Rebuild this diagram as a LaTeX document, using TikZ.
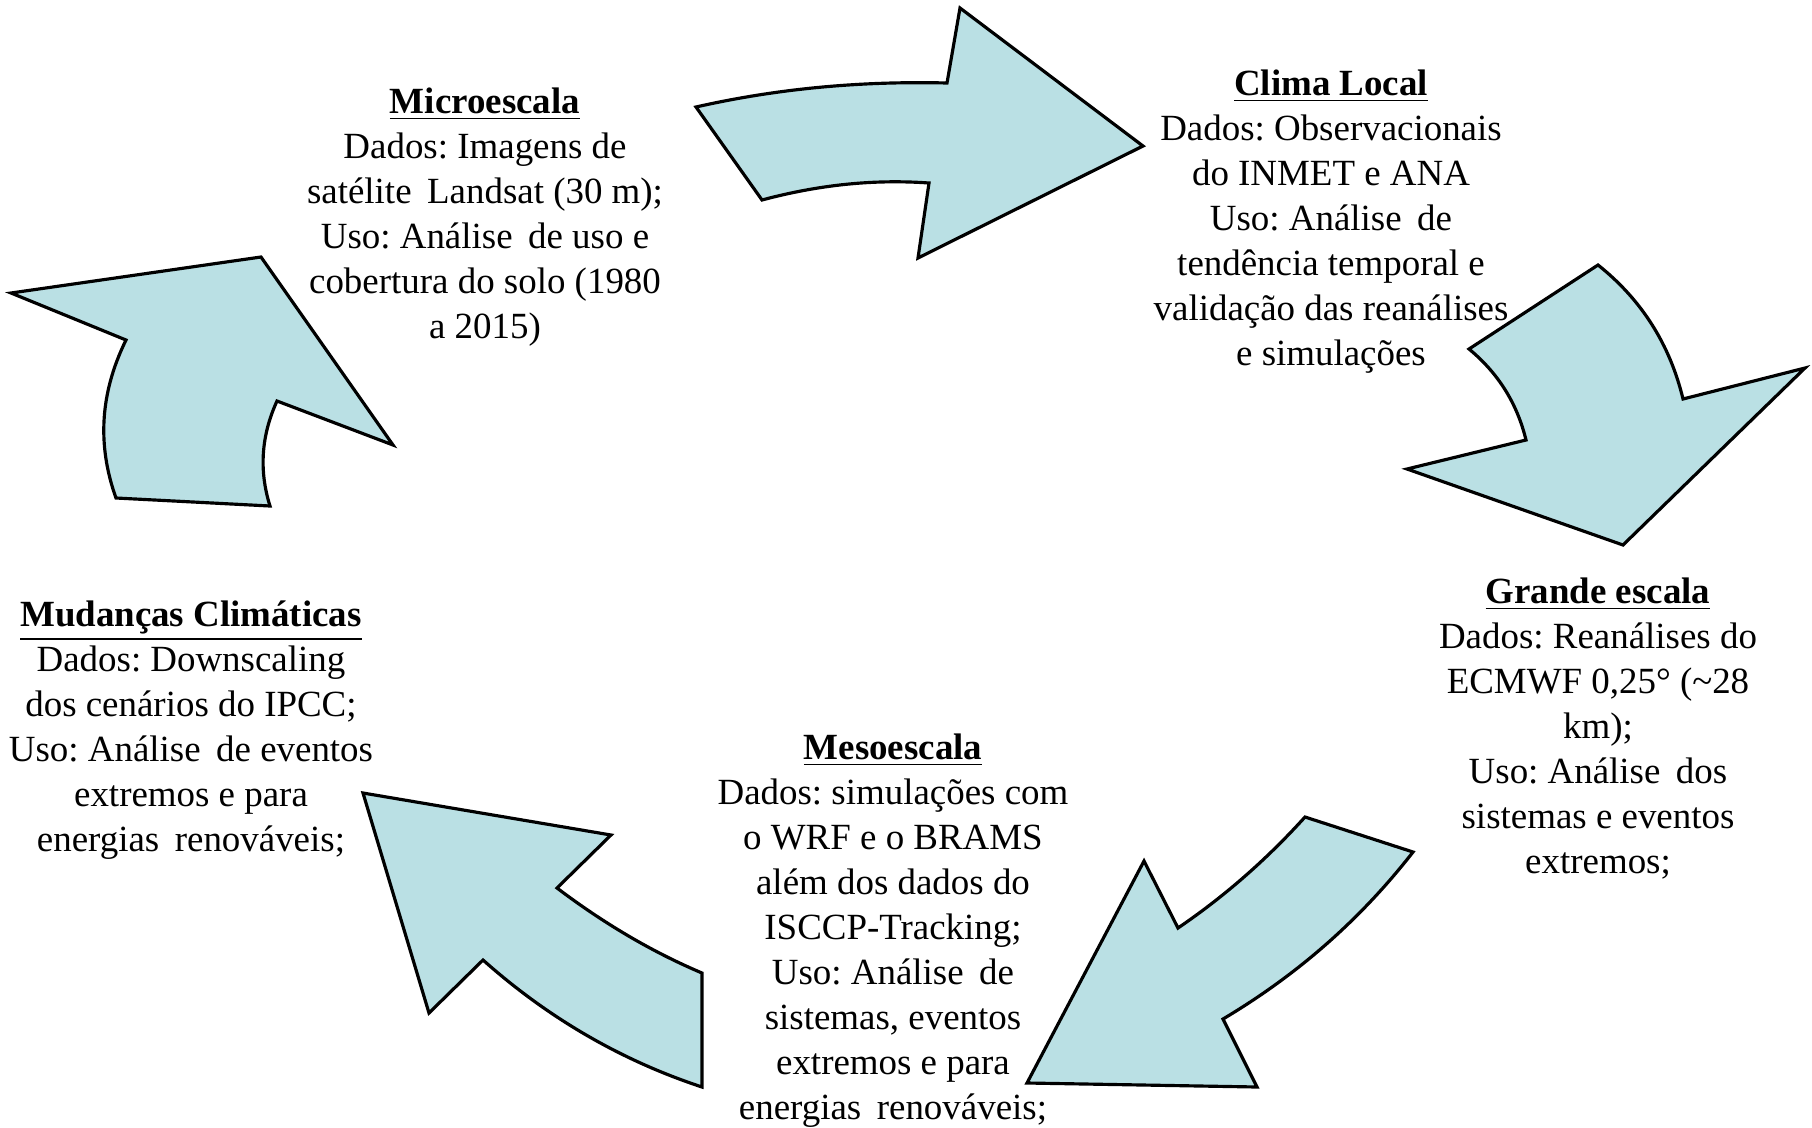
\documentclass[tikz,border=0pt]{standalone}
\usepackage{fontspec}
\setmainfont{Liberation Serif}
\frenchspacing
\definecolor{arrowfill}{RGB}{186,224,228}
\newcommand{\wsp}{\hspace{0.42em}}
\begin{document}
\begin{tikzpicture}[x=0.01cm,y=-0.01cm,
  bigarrow/.style={fill=arrowfill,draw=black,line width=0.9pt,line join=miter},
  txt/.style={align=center,inner sep=0pt,anchor=north,font=\fontsize{10.5}{12.8}\selectfont}]
\useasboundingbox (0,0) rectangle (1812,1127);
% arrow 1 (top)
\draw[bigarrow] (696,107) .. controls (780,88) and (863,81) .. (947,83) -- (960,8) -- (1143,146) -- (918,258) -- (929,183)
  .. controls (873,179) and (818,185) .. (762,200) -- cycle;
% arrow 2 (right)
\draw[bigarrow] (1469,349) -- (1598,265) .. controls (1642,300) and (1670,345) .. (1683,399) -- (1805,368) -- (1623,545)
  -- (1407,469) -- (1526,440) .. controls (1517,403) and (1498,373) .. (1469,349) -- cycle;
% arrow 3 (bottom right)
\draw[bigarrow] (1305,817) -- (1413,852) .. controls (1360,920) and (1297,975) .. (1223,1019) -- (1257,1087) -- (1027,1083)
  -- (1144,861) -- (1178,928) .. controls (1225,896) and (1267,859) .. (1305,817) -- cycle;
% arrow 4 (bottom left)
\draw[bigarrow] (363,793) -- (611,835) -- (557,888) .. controls (602,922) and (650,951) .. (702,973) -- (702,1087)
  .. controls (620,1060) and (547,1017) .. (483,960) -- (429,1013) -- cycle;
% arrow 5 (left)
\draw[bigarrow] (11,293) -- (261,257) -- (393,445) -- (277,401) .. controls (261,436) and (259,471) .. (270,506)
  -- (116,498) .. controls (97,445) and (100,393) .. (126,340) -- cycle;
% texts
\node[txt] (micro) at (485,87) {\underline{\textbf{Microescala}}\\Dados: Imagens de\\satélite\wsp Landsat (30 m);\\Uso: Análise\wsp de uso e\\cobertura do solo (1980\\a 2015)};
\node[txt] (clima) at (1331,69) {\underline{\textbf{Clima Local}}\\Dados: Observacionais\\do INMET e ANA\\Uso: Análise\wsp de\\tendência temporal e\\validação das reanálises\\e simulações};
\node[txt] (grande) at (1598,577) {\underline{\textbf{Grande escala}}\\Dados: Reanálises do\\ECMWF 0,25° (\textasciitilde28\\km);\\Uso: Análise\wsp dos\\sistemas e eventos\\extremos;};
\node[txt] (meso) at (893,733) {\underline{\textbf{Mesoescala}}\\Dados: simulações com\\o WRF e o BRAMS\\além dos dados do\\ISCCP-Tracking;\\Uso: Análise\wsp de\\sistemas, eventos\\extremos e para\\energias\wsp renováveis;};
\node[txt] (mudancas) at (191,600) {\underline{\textbf{Mudanças Climáticas}}\\Dados: Downscaling\\dos cenários do IPCC;\\Uso: Análise\wsp de eventos\\extremos e para\\energias\wsp renováveis;};
\end{tikzpicture}
\end{document}
